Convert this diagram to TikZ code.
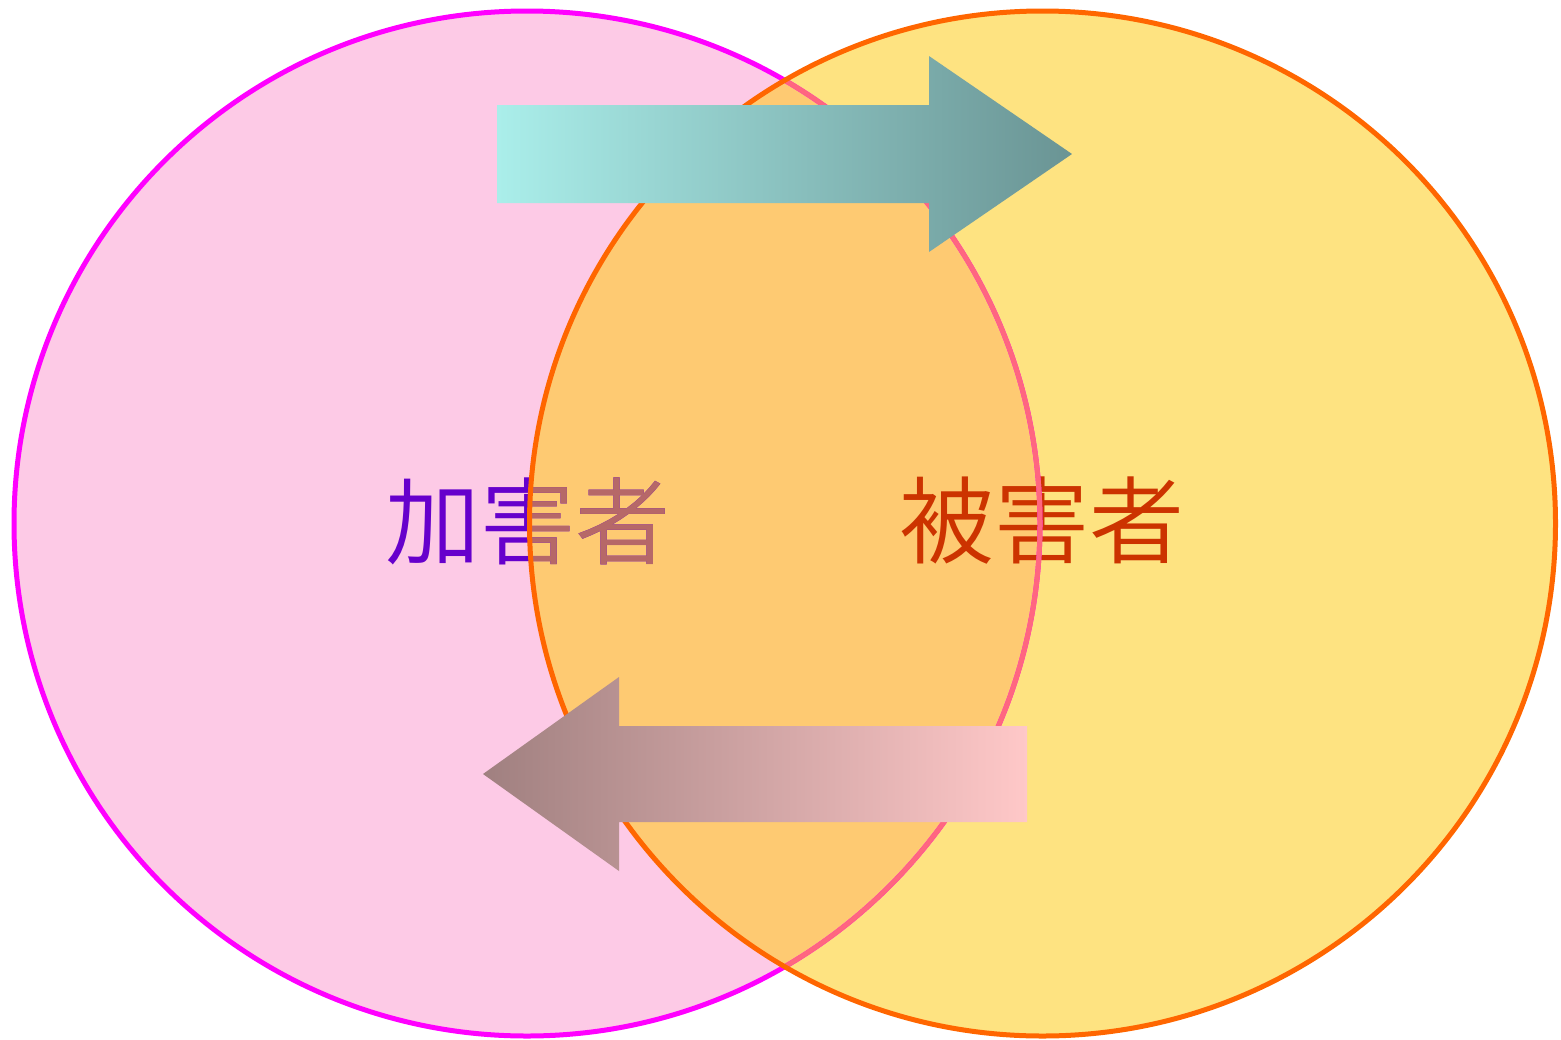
\documentclass[tikz,border=0pt]{standalone}
\usepackage{fontspec}
\newfontfamily\cjk{Noto Sans CJK JP DemiLight}
\definecolor{pinkfill}{HTML}{FDCAE6}
\definecolor{yellowfill}{HTML}{FEE381}
\definecolor{overlapfill}{HTML}{FECA72}
\definecolor{magline}{HTML}{FF00FF}
\definecolor{magblend}{HTML}{FF6680}
\definecolor{orangeline}{HTML}{FF6600}
\definecolor{purpletext}{HTML}{6600CC}
\definecolor{purpleblend}{HTML}{B66868}
\definecolor{orangetext}{HTML}{CC3300}
\definecolor{cyanA}{HTML}{AAEEEA}
\definecolor{cyanB}{HTML}{88BCB9}
\definecolor{cyanC}{HTML}{6A9494}
\definecolor{brownA}{HTML}{A08080}
\definecolor{brownB}{HTML}{DEB2B2}
\definecolor{brownC}{HTML}{FFC8C8}
\begin{document}
\begin{tikzpicture}[x=1pt,y=-1pt,
  lbl/.style={font=\cjk\fontsize{95}{95}\selectfont, inner sep=0pt},
  ring/.style={line width=5pt}]
\useasboundingbox (0,0) rectangle (1561,1039);
\coordinate (lc) at (527,523.5);
\coordinate (rc) at (1042.5,523.5);
% fills
\fill[pinkfill] (lc) ellipse [x radius=513pt, y radius=512.5pt];
\fill[yellowfill] (rc) ellipse [x radius=513pt, y radius=512.5pt];
\begin{scope}
  \clip (lc) ellipse [x radius=513pt, y radius=512.5pt];
  \fill[overlapfill] (rc) ellipse [x radius=513pt, y radius=512.5pt];
\end{scope}
% left label
\node[lbl, text=purpletext] (t1) at (528,521) {加害者};
\begin{scope}
  \clip (rc) ellipse [x radius=513pt, y radius=512.5pt];
  \node[lbl, text=purpleblend] (t1b) at (528,521) {加害者};
\end{scope}
% right label
\node[lbl, text=orangetext] (t2) at (1042,521) {被害者};
% borders
\draw[ring, magline] (lc) ellipse [x radius=513pt, y radius=512.5pt];
\begin{scope}
  \clip (rc) ellipse [x radius=513pt, y radius=512.5pt];
  \draw[ring, magblend] (lc) ellipse [x radius=513pt, y radius=512.5pt];
\end{scope}
\draw[ring, orangeline] (rc) ellipse [x radius=513pt, y radius=512.5pt];
% arrows
\shade[left color=cyanA, middle color=cyanB, right color=cyanC]
  (497,105) -- (929,105) -- (929,56) -- (1072,154) -- (929,252) -- (929,203) -- (497,203) -- cycle;
\shade[left color=brownA, middle color=brownB, right color=brownC]
  (483,774) -- (619,677) -- (619,726) -- (1027,726) -- (1027,822) -- (619,822) -- (619,871) -- cycle;
\end{tikzpicture}
\end{document}
